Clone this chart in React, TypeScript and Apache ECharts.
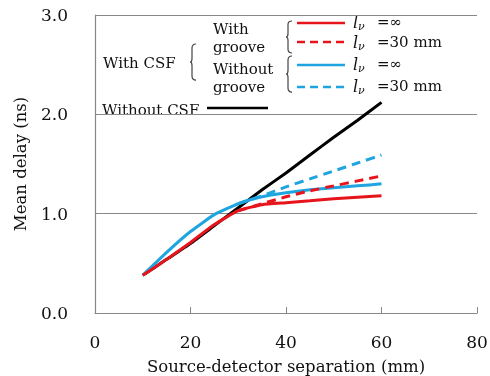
import React, { useEffect, useRef } from "react";
import * as echarts from "echarts";

const separations = [10, 15, 20, 25, 30, 35, 40, 45, 50, 55, 60];
const withoutCSF = [0.38, 0.54, 0.7, 0.88, 1.06, 1.24, 1.41, 1.59, 1.77, 1.94, 2.12];
const grooveInf = [0.38, 0.54, 0.71, 0.89, 1.03, 1.09, 1.11, 1.13, 1.15, 1.165, 1.18];
const groove30 = [null, null, null, null, 1.03, 1.1, 1.17, 1.23, 1.28, 1.33, 1.38];
const noGrooveInf = [0.38, 0.61, 0.82, 0.99, 1.1, 1.17, 1.21, 1.24, 1.26, 1.28, 1.3];
const noGroove30 = [null, null, null, null, 1.1, 1.18, 1.27, 1.35, 1.43, 1.51, 1.59];

const RED = "#e8141c";
const BLUE = "#1ea5e0";
const FONT = "DejaVu Serif";

const pairs = (ys: (number | null)[]) =>
  separations.map((x, i) => [x, ys[i]]).filter((p) => p[1] !== null);

const braceD = "M6,0 Q2,0 2,4 L2,14 Q2,17.5 0,17.5 Q2,17.5 2,21 L2,31 Q2,35 6,35";
echarts.graphic.registerShape("brace", echarts.graphic.extendPath(braceD, {}) as any);

export default function App() {
  const ref = useRef<HTMLDivElement>(null);
  useEffect(() => {
    if (!ref.current) return;
    const chart = echarts.init(ref.current, null, { renderer: "svg" });
    const txt = (text: string, x: number, y: number, extra: any = {}) => ({
      type: "text",
      x,
      y,
      style: {
        text,
        font: `15px "${FONT}"`,
        fill: "#111",
        verticalAlign: "middle",
        ...extra,
      },
    });
    const lineEl = (x1: number, x2: number, y: number, color: string, dashed: boolean) => ({
      type: "line",
      shape: { x1, y1: y, x2, y2: y },
      style: { stroke: color, lineWidth: 2.5, lineDash: dashed ? [8, 5] : null },
    });
    const lv = (x: number, y: number, rest: string) => [
      txt("l", x, y, { font: `italic 16px "${FONT}"` }),
      txt("ν", x + 5, y + 4, { font: `italic 11px "${FONT}"` }),
      txt(rest, x + 24, y),
    ];
    const brace = (x: number, y: number, h: number) => ({
      type: "brace",
      x,
      y,
      scaleX: 1,
      scaleY: h / 35,
      style: { stroke: "#444", lineWidth: 1.2, fill: "none" },
    });
    chart.setOption({
      animation: false,
      grid: { left: 95, right: 13, top: 15, bottom: 63, outerBoundsMode: "none", containLabel: false },
      xAxis: {
        type: "value",
        min: 0,
        max: 80,
        interval: 20,
        name: "Source-detector separation (mm)",
        nameLocation: "middle",
        nameGap: 45,
        nameTextStyle: { fontFamily: FONT, fontSize: 16.5, color: "#111" },
        axisLine: { show: true, lineStyle: { color: "#888", width: 1.2 } },
        axisTick: { show: true, inside: true, length: 6, lineStyle: { color: "#888" } },
        axisLabel: { fontFamily: FONT, fontSize: 17, color: "#111", margin: 20 },
        splitLine: { show: false },
      },
      yAxis: {
        type: "value",
        min: 0,
        max: 3,
        interval: 1,
        name: "Mean delay (ns)",
        nameLocation: "middle",
        nameGap: 66,
        nameTextStyle: { fontFamily: FONT, fontSize: 16.5, color: "#111" },
        axisLine: { show: true, lineStyle: { color: "#888", width: 1.2 } },
        axisTick: { show: false },
        axisLabel: {
          fontFamily: FONT,
          fontSize: 17,
          color: "#111",
          margin: 27,
          formatter: (v: number) => v.toFixed(1),
        },
        splitLine: { show: true, lineStyle: { color: "#888", width: 1.2 } },
      },
      series: [
        { name: "Without CSF", data: pairs(withoutCSF), color: "#000", lineStyle: { width: 3, color: "#000" } },
        { name: "Without groove 30", data: pairs(noGroove30), color: BLUE, lineStyle: { width: 3, color: BLUE, type: [9, 6] } },
        { name: "Without groove inf", data: pairs(noGrooveInf), color: BLUE, lineStyle: { width: 3, color: BLUE } },
        { name: "With groove 30", data: pairs(groove30), color: RED, lineStyle: { width: 3, color: RED, type: [9, 6] } },
        { name: "With groove inf", data: pairs(grooveInf), color: RED, lineStyle: { width: 3, color: RED } },
      ].map((s) => ({
        ...s,
        type: "line",
        smooth: 0.15,
        showSymbol: false,
        symbol: "none",
      })),
      graphic: [
        txt("With CSF", 103, 63),
        brace(190, 44, 36),
        txt("With", 213, 29),
        txt("groove", 213, 47),
        txt("Without", 213, 69),
        txt("groove", 213, 87),
        brace(286, 21, 32),
        brace(286, 56, 36),
        lineEl(297, 345, 23, RED, false),
        lineEl(297, 345, 42, RED, true),
        lineEl(297, 345, 65, BLUE, false),
        lineEl(297, 345, 87, BLUE, true),
        ...lv(353, 22, "=∞"),
        ...lv(353, 42, "=30 mm"),
        ...lv(353, 64, "=∞"),
        ...lv(353, 86, "=30 mm"),
        txt("Without CSF", 102, 110),
        lineEl(207, 268, 108, "#000", false),
      ],
    });
    return () => chart.dispose();
  }, []);
  return <div ref={ref} style={{ position: "fixed", left: 0, top: 0, width: 490, height: 376 }} />;
}
